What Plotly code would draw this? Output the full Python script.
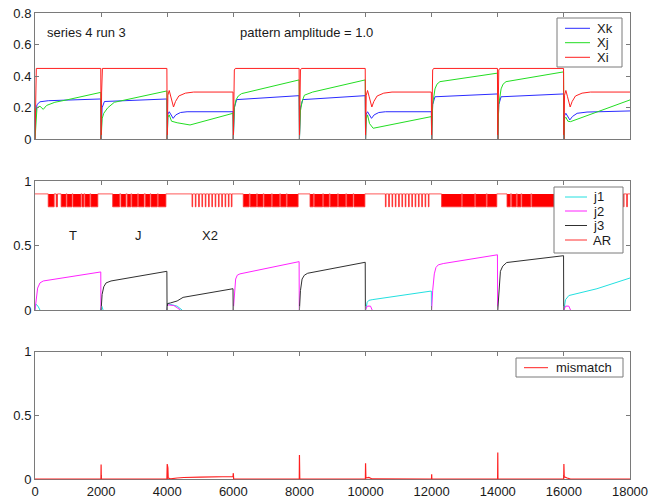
import plotly.graph_objects as go

# ---------------- data ----------------
# top panel: activations Xk, Xj, Xi over time
xk_t = [0, 20, 60, 150, 400, 1990,
        2000, 2030, 2100, 3990,
        4000, 4020, 4060, 4110, 4180, 4260, 4400, 4600, 5990,
        6000, 6030, 6100, 7990,
        8000, 8030, 8100, 9990,
        10000, 10020, 10060, 10110, 10180, 10260, 10400, 10600, 11990,
        12000, 12030, 12100, 13990,
        14000, 14030, 14100, 15990,
        16000, 16020, 16060, 16110, 16180, 16260, 16400, 16700, 18000]
xk_v = [0, 0.15, 0.22, 0.238, 0.245, 0.256,
        0, 0.2, 0.24, 0.256,
        0, 0.16, 0.175, 0.16, 0.133, 0.155, 0.17, 0.175, 0.175,
        0, 0.2, 0.252, 0.277,
        0, 0.2, 0.252, 0.277,
        0, 0.16, 0.175, 0.16, 0.133, 0.155, 0.17, 0.175, 0.175,
        0, 0.22, 0.27, 0.288,
        0, 0.22, 0.27, 0.288,
        0, 0.15, 0.165, 0.145, 0.123, 0.145, 0.165, 0.173, 0.18]

xj_t = [0, 30, 60, 150, 250, 350, 600, 1000, 1990,
        2000, 2030, 2080, 2200, 2400, 2800, 3990,
        4000, 4020, 4060, 4130, 4300, 4690, 5990,
        6000, 6030, 6080, 6150, 6250, 7990,
        8000, 8030, 8080, 8150, 8400, 9990,
        10000, 10020, 10060, 10120, 10230, 11990,
        12000, 12030, 12100, 12160, 12250, 13990,
        14000, 14030, 14100, 14160, 14250, 15990,
        16000, 16020, 16060, 16120, 16200, 18000]
xj_v = [0, 0.1, 0.2, 0.21, 0.19, 0.215, 0.235, 0.252, 0.298,
        0, 0.13, 0.165, 0.2, 0.235, 0.252, 0.307,
        0, 0.14, 0.155, 0.115, 0.105, 0.091, 0.165,
        0, 0.2, 0.25, 0.275, 0.29, 0.377,
        0, 0.18, 0.24, 0.28, 0.3, 0.377,
        0, 0.13, 0.155, 0.1, 0.07, 0.144,
        0, 0.22, 0.32, 0.35, 0.366, 0.42,
        0, 0.22, 0.32, 0.35, 0.366, 0.428,
        0, 0.13, 0.14, 0.115, 0.112, 0.25]

xi_t = [0, 15, 40, 1990,
        2000, 2015, 2040, 3990,
        4000, 4020, 4060, 4110, 4190, 4250, 4350, 4550, 4800, 5990,
        6000, 6030, 6060, 7990,
        8000, 8030, 8060, 9990,
        10000, 10020, 10060, 10110, 10190, 10250, 10350, 10550, 10800, 11990,
        12000, 12030, 12060, 13990,
        14000, 14030, 14060, 15990,
        16000, 16020, 16060, 16110, 16190, 16250, 16350, 16550, 16800, 18000]
xi_v = [0, 0.3, 0.45, 0.45,
        0, 0.3, 0.45, 0.45,
        0, 0.28, 0.31, 0.27, 0.205, 0.24, 0.275, 0.293, 0.3, 0.3,
        0, 0.44, 0.45, 0.45,
        0, 0.44, 0.45, 0.45,
        0, 0.28, 0.31, 0.27, 0.205, 0.24, 0.275, 0.293, 0.3, 0.3,
        0, 0.44, 0.45, 0.45,
        0, 0.44, 0.45, 0.45,
        0, 0.28, 0.31, 0.27, 0.205, 0.24, 0.275, 0.293, 0.3, 0.3]

# middle panel: j1, j2, j3 (None separates inactive stretches)
j1_t = [0, 30, 90, 150, None,
        1990, 2020, 2060, None,
        4000, 4010, 4150, 4300, 4450, None,
        10000, 10050, 10100, 10200, 11990, 11995, None,
        16000, 16050, 16150, 17000, 18000]
j1_v = [0, 0.045, 0.03, 0, None,
        0, 0.03, 0, None,
        0, 0.05, 0.04, 0.03, 0, None,
        0, 0.06, 0.075, 0.08, 0.147, 0, None,
        0, 0.08, 0.112, 0.165, 0.248]

j2_t = [0, 30, 80, 150, 250, 1990, 1995, None,
        4000, 4010, 4200, 4400, None,
        6000, 6030, 6070, 6120, 6200, 7990, 7995, None,
        10000, 10050, 10150, 10200, None,
        12000, 12030, 12080, 12130, 12200, 12350, 13990, 13995, None,
        16000, 16050, 16150, 16200]
j2_v = [0, 0.08, 0.17, 0.21, 0.225, 0.295, 0, None,
        0, 0.04, 0.035, 0, None,
        0, 0.15, 0.24, 0.27, 0.28, 0.375, 0, None,
        0, 0.03, 0.03, 0, None,
        0, 0.15, 0.28, 0.33, 0.35, 0.36, 0.428, 0, None,
        0, 0.03, 0.03, 0]

j3_t = [2000, 2030, 2080, 2150, 2300, 3990, 3995, None,
        4000, 4010, 4100, 4300, 4480, 4700, 5990, 5995, None,
        8000, 8030, 8080, 8150, 8250, 9990, 9995, None,
        14000, 14030, 14080, 14150, 14270, 15990, 15995]
j3_v = [0, 0.12, 0.18, 0.21, 0.225, 0.3, 0, None,
        0, 0.05, 0.055, 0.07, 0.098, 0.108, 0.165, 0, None,
        0, 0.15, 0.24, 0.27, 0.285, 0.37, 0, None,
        0, 0.15, 0.3, 0.34, 0.368, 0.421, 0]

# AR: idles at AR_HIGH, drops to AR_LOW during these (start, end) spans
AR_HIGH, AR_LOW = 0.9, 0.8
ar_low = [(400, 580), (640, 680), (790, 940), (970, 1120), (1150, 1390),
          (1420, 1480), (1510, 1660), (1690, 1900),
          (2350, 2560), (2600, 2750), (2790, 2900), (2930, 3100),
          (3130, 3300), (3340, 3480), (3510, 3700), (3730, 3960),
          (4750, 4770), (4850, 4870), (4950, 4970), (5050, 5070),
          (5150, 5170), (5250, 5270), (5350, 5370), (5450, 5470),
          (5550, 5570), (5650, 5670), (5750, 5770), (5850, 5870),
          (5940, 5960),
          (6300, 6480), (6510, 6700), (6730, 6900), (6930, 7150),
          (7180, 7400), (7430, 7600), (7630, 7960),
          (8320, 8420), (8450, 8700), (8730, 8900), (8930, 9150),
          (9180, 9400), (9430, 9620), (9650, 9980),
          (10600, 10620), (10700, 10720), (10800, 10820), (10900, 10920),
          (11000, 11020), (11100, 11120), (11200, 11220), (11300, 11320),
          (11400, 11420), (11500, 11520), (11600, 11620), (11700, 11720),
          (11800, 11820), (11900, 11920),
          (12300, 12900), (12930, 13300), (13330, 13650), (13680, 13970),
          (14280, 14380), (14420, 14560), (14590, 14700), (14730, 15000),
          (15030, 15900),
          (16700, 16720), (16800, 16820), (16900, 16920), (17000, 17020),
          (17100, 17120), (17200, 17220), (17300, 17320), (17400, 17420),
          (17500, 17520), (17600, 17620), (17700, 17720), (17800, 17820),
          (17900, 17920)]

# bottom panel: mismatch
mm_t = [0, 1995, 2000, 2005, 3990, 4000, 4010, 4020, 4030, 4100, 4300,
        4500, 5000, 5500, 5990, 6000, 6010, 7995, 8000, 8003, 8006, 8010,
        9995, 10000, 10010, 10100, 10200, 11995, 12000, 12005, 13995,
        14000, 14005, 15995, 16000, 16010, 16100, 16200, 18000]
mm_v = [0.002, 0.002, 0.115, 0.002, 0.002, 0.12, 0.02, 0.09, 0.01, 0.004, 0.01,
        0.014, 0.017, 0.02, 0.022, 0.048, 0.002, 0.002, 0.19, 0.07, 0.06, 0.002,
        0.002, 0.125, 0.01, 0.015, 0.003, 0.002, 0.04, 0.002, 0.002,
        0.21, 0.002, 0.002, 0.12, 0.02, 0.01, 0.002, 0.002]

x_ticks = [0, 2000, 4000, 6000, 8000, 10000, 12000, 14000, 16000, 18000]
x_labels = ["0", "2000", "4000", "6000", "8000", "10000", "12000", "14000", "16000", "18000"]

# ---------------- figure ----------------
W, H = 649, 501
FONT = "Liberation Sans, Arial, sans-serif"
AX = "#7a7a7a"
TXT = "#1a1a1a"

C_XK, C_XJ, C_XI = "#2b2bff", "#22dd22", "#ff2020"
C_J1, C_J2, C_J3, C_AR = "#22e0e0", "#ff22ff", "#303030", "#ff3030"
C_MM = "#ff2020"

x_dom = [35 / W, 630 / W]
y_doms = [[1 - 139.3 / H, 1 - 13.3 / H],
          [1 - 310 / H, 1 - 181 / H],
          [1 - 479.3 / H, 1 - 351.7 / H]]

fig = go.Figure()


def curve(x, y, name, color, xa, ya, width=1):
    fig.add_trace(go.Scatter(x=x, y=y, name=name, mode="lines",
                             line=dict(color=color, width=width),
                             xaxis=xa, yaxis=ya, showlegend=False))


curve(xk_t, xk_v, "Xk", C_XK, "x", "y")
curve(xj_t, xj_v, "Xj", C_XJ, "x", "y")
curve(xi_t, xi_v, "Xi", C_XI, "x", "y")

curve(j1_t, j1_v, "j1", C_J1, "x2", "y2")
curve(j2_t, j2_v, "j2", C_J2, "x2", "y2")
curve(j3_t, j3_v, "j3", C_J3, "x2", "y2")

# AR step path built from the low spans; the spans are filled solid
ar_x, ar_y = [0], [AR_HIGH]
for s, e in ar_low:
    ar_x += [s, s, e, e]
    ar_y += [AR_HIGH, AR_LOW, AR_LOW, AR_HIGH]
ar_x.append(18000)
ar_y.append(AR_HIGH)
fig.add_trace(go.Scatter(x=ar_x, y=ar_y, name="AR", mode="lines", fill="toself",
                         fillcolor="#ff0000", line=dict(color=C_AR, width=0.8),
                         showlegend=False, hoverinfo="skip", xaxis="x2", yaxis="y2"))

curve(mm_t, mm_v, "mismatch", C_MM, "x3", "y3", width=1.2)


def xaxis(anchor, labels):
    return dict(domain=x_dom, anchor=anchor, range=[0, 18000],
                tickvals=x_ticks, ticktext=x_labels,
                showticklabels=labels, ticks="inside", ticklen=4, tickcolor=AX,
                showline=True, linecolor=AX, linewidth=1, mirror="ticks",
                showgrid=False, zeroline=False, automargin=False,
                tickfont=dict(family=FONT, size=13, color=TXT))


def yaxis(anchor, dom, rng, vals, text):
    return dict(domain=dom, anchor=anchor, range=rng, tickvals=vals, ticktext=text,
                ticks="inside", ticklen=4, tickcolor=AX,
                showline=True, linecolor=AX, linewidth=1, mirror="ticks",
                showgrid=False, zeroline=False, automargin=False,
                tickfont=dict(family=FONT, size=13, color=TXT))


fig.update_layout(
    width=W, height=H,
    margin=dict(l=0, r=0, t=0, b=0),
    paper_bgcolor="white", plot_bgcolor="white",
    showlegend=False,
    xaxis=xaxis("y", False),
    xaxis2=xaxis("y2", False),
    xaxis3=dict(xaxis("y3", True), layer="below traces"),
    yaxis=yaxis("x", y_doms[0], [0, 0.8], [0, 0.2, 0.4, 0.6, 0.8], ["0", "0.2", "0.4", "0.6", "0.8"]),
    yaxis2=yaxis("x2", y_doms[1], [0, 1], [0, 0.5, 1], ["0", "0.5", "1"]),
    yaxis3=yaxis("x3", y_doms[2], [0, 1], [0, 0.5, 1], ["0", "0.5", "1"]),
)

txt_font = dict(family=FONT, size=13, color=TXT)


# boxed legends drawn in pixel units of the page
def legend_box(box, entries, sample_x, text_x, rows_y):
    x0, y0, x1, y1 = box
    fig.add_shape(type="rect", xref="paper", yref="paper", layer="above",
                  x0=x0 / W, x1=x1 / W, y0=1 - y1 / H, y1=1 - y0 / H,
                  fillcolor="white", line=dict(color=AX, width=1))
    for (name, color), yy in zip(entries, rows_y):
        fig.add_shape(type="line", xref="paper", yref="paper", layer="above",
                      x0=sample_x[0] / W, x1=sample_x[1] / W,
                      y0=1 - yy / H, y1=1 - yy / H, line=dict(color=color, width=1))
        fig.add_annotation(x=text_x / W, y=1 - yy / H, xref="paper", yref="paper",
                           text=name, showarrow=False, xanchor="left", yanchor="middle",
                           font=txt_font)


legend_box((557, 18, 622, 67), [("Xk", C_XK), ("Xj", C_XJ), ("Xi", C_XI)],
           (565, 590), 595, [28.3, 42.7, 57.3])
legend_box((554, 187, 623, 253), [("j1", C_J1), ("j2", C_J2), ("j3", C_J3), ("AR", C_AR)],
           (565, 587), 591, [197, 211, 225.5, 240])
legend_box((516, 358, 623, 377), [("mismatch", C_MM)], (524, 548), 554, [367.7])

fig.add_annotation(x=300, y=0.675, xref="x", yref="y", text="series 4 run 3",
                   showarrow=False, xanchor="left", font=txt_font)
fig.add_annotation(x=6150, y=0.675, xref="x", yref="y", text="pattern amplitude = 1.0",
                   showarrow=False, xanchor="left", font=txt_font)
for lab, xt in [("T", 1135), ("J", 3130), ("X2", 5290)]:
    fig.add_annotation(x=xt, y=0.574, xref="x2", yref="y2", text=lab,
                       showarrow=False, font=txt_font)

fig.write_html("out.html")
